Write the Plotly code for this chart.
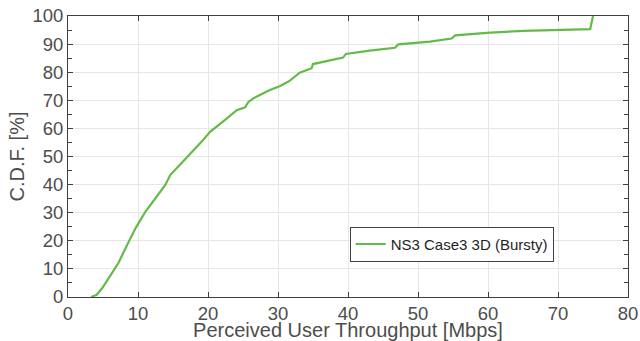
import plotly.graph_objects as go

throughput = [3.3, 4.1, 4.9, 6.05, 7.2, 8.7, 9.7, 11.1, 13.0, 13.9, 14.6, 16.1, 17.2, 19.1,
              20.3, 22.7, 24.1, 25.3, 25.8, 26.5, 28.6, 30.3, 31.7, 33.1, 34.8, 35.0, 37.9,
              39.3, 39.7, 43.1, 46.7, 47.2, 51.7, 54.8, 55.3, 60.3, 65.0, 74.6, 75.0]
cdf = [0, 0.8, 3.2, 7.9, 12.1, 19.8, 24.7, 30.5, 36.9, 39.9, 43.4, 47.6, 50.3, 55.3,
       58.8, 63.6, 66.5, 67.5, 69.5, 70.7, 73.4, 75.1, 77.0, 79.8, 81.4, 82.9, 84.6,
       85.2, 86.5, 87.7, 88.7, 89.9, 90.9, 92.0, 93.1, 94.1, 94.7, 95.3, 100]
series_name = "NS3 Case3 3D (Bursty)"
x_ticks = [0, 10, 20, 30, 40, 50, 60, 70, 80]
y_ticks = [0, 10, 20, 30, 40, 50, 60, 70, 80, 90, 100]

axis_col = "#404040"
text_col = "#4d4d4d"
font_family = "Liberation Sans, Arial, sans-serif"

fig = go.Figure()
fig.add_trace(go.Scatter(x=throughput, y=cdf, mode="lines", name=series_name,
                         line=dict(color="#62bb46", width=2.2)))

common = dict(showline=True, linecolor=axis_col, linewidth=1, mirror="ticks",
              ticks="inside", ticklen=5, tickcolor=axis_col, automargin=False,
              showgrid=True, gridcolor="#e6e6e6", gridwidth=1, zeroline=False,
              tickfont=dict(size=18.5, color=text_col, family=font_family))

fig.update_xaxes(range=[0, 80], tickvals=x_ticks, ticklabelstandoff=0,
                 title=dict(text="Perceived User Throughput [Mbps]", standoff=0,
                            font=dict(size=20, color=text_col, family=font_family)),
                 **common)
fig.update_yaxes(range=[0, 100], tickvals=y_ticks,
                 minor=dict(dtick=5, ticks="inside", ticklen=4, tickcolor=axis_col, showgrid=False),
                 title=dict(text="C.D.F. [%]", standoff=2,
                            font=dict(size=20, color=text_col, family=font_family)),
                 **common)

fig.update_layout(
    width=640, height=341,
    margin=dict(l=68, r=12, t=16, b=44),
    paper_bgcolor="white", plot_bgcolor="white",
    font=dict(family=font_family, color=text_col),
    showlegend=True,
    legend=dict(x=0.503, y=0.25, xanchor="left", yanchor="top",
                bgcolor="white", bordercolor=axis_col, borderwidth=1,
                font=dict(size=15, color="#1f1f1f", family=font_family),
                itemwidth=30, tracegroupgap=0),
)

fig.write_html("out.html", config={"displayModeBar": False},
               post_script="document.body.style.margin='0';document.body.style.overflow='hidden';")
